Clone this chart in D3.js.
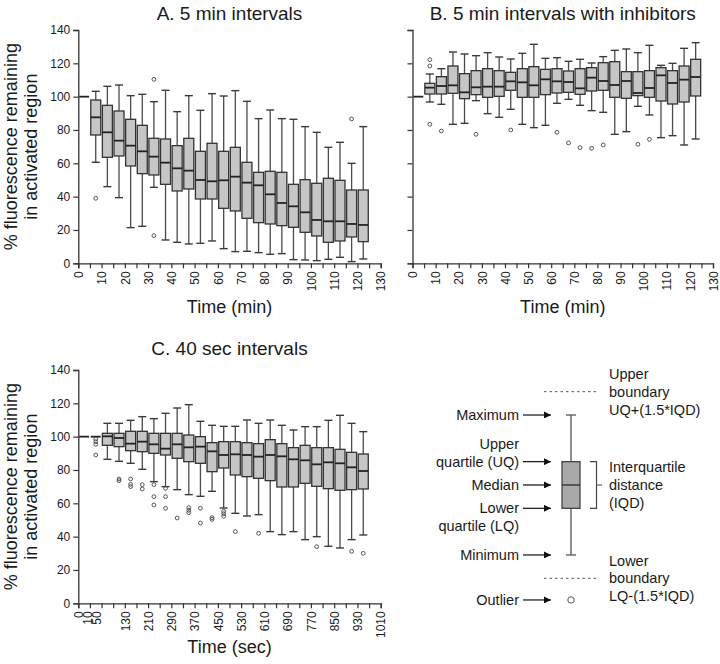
<!DOCTYPE html>
<html>
<head>
<meta charset="utf-8">
<script src="https://cdn.jsdelivr.net/npm/d3@7"></script>
<style>
  body { margin: 0; background: #fff; }
  svg text { font-family: "Liberation Sans", Arial, sans-serif; fill: #1a1a1a; }
</style>
</head>
<body>
<div id="chart"></div>
<script>
// box i sits in slot i (centre at i + 0.5 ticks); slot 0 is the 100% start value
var aTimes = [0, 5, 10, 15, 20, 25, 30, 35, 40, 45, 50, 55, 60, 65, 70, 75, 80, 85, 90, 95, 100, 105, 110, 115, 120];
var aMax = [100, 103.2, 106.2, 107, 100.6, 101.4, 97, 103.8, 91, 100.6, 91.8, 101.8, 100.4, 103.6, 97.2, 86.8, 92, 86.8, 86.4, 82, 78.6, 69.6, 72.6, 60, 82];
var aUQ  = [100, 98, 94.8, 91.4, 86.4, 82.8, 75, 74.6, 70.6, 75, 67.2, 72, 67.2, 69.6, 60.6, 54.6, 55.2, 54.6, 47.4, 50.2, 48, 51, 49.8, 44, 44];
var aMed = [100, 87.6, 78.6, 73.6, 70.6, 67.2, 64, 60.4, 57, 55.6, 50, 49.2, 49.8, 52, 48.4, 46.8, 41.4, 36.2, 34.2, 30.6, 26, 25.2, 25.2, 23.6, 23];
var aLQ  = [100, 77, 63.6, 64.4, 58.4, 53.8, 53, 47.4, 43.4, 44.6, 38.6, 38.6, 33, 31.4, 27, 24.4, 23.6, 22.6, 21.6, 18.6, 16.4, 12.6, 13.4, 15.8, 13];
var aMin = [100, 60.6, 46, 39.4, 21.4, 22.2, 45.6, 14, 12.6, 11.6, 12, 13.4, 8.8, 7, 7.2, 6.4, 5.4, 5.8, 2.2, 2, 1.6, 2.4, 3.6, 1, 2.6];
var aOut = [[1, 39], [6, 110.4], [6, 16.6], [23, 86.6]];

var bTimes = aTimes;
var bMax = [100, 113.6, 116.8, 126.8, 125.6, 124.6, 126.4, 123.8, 122.6, 126, 131.4, 123, 123.4, 121.2, 122.4, 120.2, 124, 127.8, 128.6, 126.4, 130.8, 118.8, 120, 129, 132.4];
var bUQ  = [100, 108, 112, 118.4, 113.8, 115.6, 116.8, 115.6, 114.6, 116.8, 118, 116.4, 116.8, 115.4, 116.8, 117.4, 120.4, 121, 115, 115, 115.6, 117.4, 115.6, 118.4, 122.4];
var bMed = [100, 105.4, 106.4, 106.8, 102.6, 105.6, 106, 106, 109.2, 108.6, 106.8, 110.4, 109.2, 108.8, 105, 111.4, 109.4, 107, 109.4, 102.2, 105.2, 112.8, 108.2, 110.2, 111.8];
var bLQ  = [100, 101.6, 101.6, 102, 98.8, 101.2, 99.6, 100.2, 103.8, 99.6, 99.6, 101.2, 102.2, 102.6, 101.4, 103.4, 103.8, 99.6, 99, 100.6, 99.6, 97.4, 95.6, 96.8, 100.4];
var bMin = [100, 96.8, 95.4, 83.4, 84, 97.6, 89.8, 87.6, 92.4, 83.4, 81.4, 82.8, 96, 98.4, 94.8, 91.6, 90.6, 77.4, 79, 94.2, 89, 75.4, 76.6, 71, 74.6];
var bOut = [[1, 122.2], [1, 118.4], [1, 83.4], [2, 79.4], [5, 77.4], [8, 80], [12, 78.6], [13, 72.2], [14, 69.4], [15, 69], [16, 71], [19, 71.4], [20, 74.4]];

var cTimes = [0, 10, 50, 90, 130, 170, 210, 250, 290, 330, 370, 410, 450, 490, 530, 570, 610, 650, 690, 730, 770, 810, 850, 890, 930];
var cMax = [100, 100, 108, 108, 109.8, 112, 110.8, 114, 117.2, 119.2, 109.2, 106.8, 106.2, 106.2, 110, 108, 110, 106.8, 104, 106, 106, 109.8, 112.8, 108, 103];
var cUQ  = [100, 100, 102, 102, 103.2, 103.2, 102, 102, 102, 101, 100, 96.4, 97, 97, 96.4, 95.8, 98.2, 95.8, 93.4, 94.8, 93.4, 93.4, 92.4, 90.6, 89.6];
var cMed = [100, 100, 100.2, 99.2, 95.8, 97, 95.4, 92.8, 95.4, 93.6, 94, 91.2, 89, 89.4, 89, 88, 89, 88.2, 86.4, 85.8, 83.4, 84.6, 84, 81.6, 79.4];
var cLQ  = [100, 100, 94.8, 94, 91.6, 91, 90, 89, 87, 85, 84, 79, 81.2, 77, 76, 75, 73.6, 69.8, 69.8, 72, 70.2, 68.8, 67.8, 68.2, 68.6];
var cMin = [100, 100, 86.4, 85.2, 84, 80.4, 73, 70, 68.2, 65.2, 64.2, 67.2, 57.2, 54, 52.4, 53.2, 43, 41.2, 43, 38.2, 40, 34.2, 33.2, 38.2, 41];
var cOut = [[1, 98.6], [1, 97], [1, 95.4], [1, 89], [3, 74.6], [3, 73.6], [4, 74.6], [4, 71.4], [4, 70], [5, 71.2], [5, 68.6],
            [6, 71.2], [6, 64], [6, 59], [7, 69], [7, 64], [7, 57], [8, 51.2], [9, 57.4], [9, 55.8], [9, 54.4], [10, 57], [10, 48.2],
            [11, 51.4], [11, 50.4], [12, 55.2], [12, 53.8], [12, 52.2], [13, 43], [15, 42], [20, 34], [23, 31.2], [24, 30]];

// tick marks along the time axes
var minTicks = [0, 5, 10, 15, 20, 25, 30, 35, 40, 45, 50, 55, 60, 65, 70, 75, 80, 85, 90, 95, 100, 105, 110, 115, 120, 125, 130];
var minLabelled = [0, 10, 20, 30, 40, 50, 60, 70, 80, 90, 100, 110, 120, 130];
var secTicks = [0, 10, 50, 90, 130, 170, 210, 250, 290, 330, 370, 410, 450, 490, 530, 570, 610, 650, 690, 730, 770, 810, 850, 890, 930, 970, 1010];
var secLabelled = [0, 10, 50, 130, 210, 290, 370, 450, 530, 610, 690, 770, 850, 930, 1010];
var yTicks = [0, 20, 40, 60, 80, 100, 120, 140];

// explanatory box (drawn on panel C's value scale)
var legMax = 113, legUQ = 85, legMed = 71, legLQ = 57, legMin = 29, legOut = 2;

var width = 720, height = 664;
var svg = d3.select("#chart").append("svg")
  .attr("width", width)
  .attr("height", height);

var boxW = 10, capW = 8;
var dark = "#333";

function makeStats(mx, uq, md, lq, mn) {
  return mx.map(function (d, i) {
    return { i: i, max: d, uq: uq[i], med: md[i], lq: lq[i], min: mn[i] };
  });
}

function panel(opt) {
  var g = svg.append("g");
  var nSlots = opt.ticks.length - 1;
  var x = d3.scaleLinear().domain([0, nSlots]).range(opt.xRange);
  var y = d3.scaleLinear().domain([0, 140]).range(opt.yRange);
  var cx = function (i) { return x(i + 0.5); };

  // y axis
  var yAxis = d3.axisLeft(y).tickValues(yTicks).tickSize(5).tickPadding(3)
    .tickFormat(opt.yLabels ? d3.format("d") : "");
  var ya = g.append("g").attr("transform", "translate(" + opt.xRange[0] + ",0)").call(yAxis);
  ya.select(".domain").attr("stroke", dark).attr("stroke-width", 1.3);
  ya.selectAll(".tick line").attr("stroke", dark).attr("stroke-width", 1.2);
  ya.selectAll("text").style("font-size", "12px").attr("fill", "#1a1a1a");

  // x axis
  var xAxis = d3.axisBottom(x).tickValues(d3.range(0, nSlots + 1)).tickSize(5)
    .tickFormat(function (d) {
      var t = opt.ticks[d];
      return opt.labelled.indexOf(t) >= 0 ? t : "";
    });
  var xa = g.append("g").attr("transform", "translate(0," + opt.yRange[0] + ")").call(xAxis);
  xa.select(".domain").attr("stroke", dark).attr("stroke-width", 1.3);
  xa.selectAll(".tick line").attr("stroke", dark).attr("stroke-width", 1.2);
  xa.selectAll("text")
    .style("font-size", "12px").attr("fill", "#1a1a1a")
    .attr("y", 0).attr("x", -8).attr("dy", "0.35em")
    .attr("transform", function (d) {
      var nudge = opt.nudge && opt.nudge[d] ? opt.nudge[d] : 0;
      return "translate(" + nudge + ",0) rotate(-90)";
    })
    .style("text-anchor", "end");

  var stats = makeStats(opt.max, opt.uq, opt.med, opt.lq, opt.min);
  var boxes = g.selectAll(".box").data(stats).enter().append("g").attr("class", "box");

  // whiskers
  boxes.append("line")
    .attr("x1", function (d) { return cx(d.i); }).attr("x2", function (d) { return cx(d.i); })
    .attr("y1", function (d) { return y(d.uq); }).attr("y2", function (d) { return y(d.max); })
    .attr("stroke", "#4a4a4a").attr("stroke-width", 1.3);
  boxes.append("line")
    .attr("x1", function (d) { return cx(d.i); }).attr("x2", function (d) { return cx(d.i); })
    .attr("y1", function (d) { return y(d.lq); }).attr("y2", function (d) { return y(d.min); })
    .attr("stroke", "#4a4a4a").attr("stroke-width", 1.3);
  boxes.filter(function (d) { return d.max !== d.lq; }).each(function (d) {
    var s = d3.select(this);
    [d.max, d.min].forEach(function (v) {
      s.append("line")
        .attr("x1", cx(d.i) - capW / 2).attr("x2", cx(d.i) + capW / 2)
        .attr("y1", y(v)).attr("y2", y(v))
        .attr("stroke", "#3a3a3a").attr("stroke-width", 1.4);
    });
  });

  // boxes
  boxes.append("rect")
    .attr("x", function (d) { return cx(d.i) - boxW / 2; })
    .attr("width", boxW)
    .attr("y", function (d) { return y(d.uq); })
    .attr("height", function (d) { return y(d.lq) - y(d.uq); })
    .attr("fill", "#c6c6c6").attr("stroke", dark).attr("stroke-width", 1.3);
  boxes.append("line")
    .attr("x1", function (d) { return cx(d.i) - boxW / 2; })
    .attr("x2", function (d) { return cx(d.i) + boxW / 2; })
    .attr("y1", function (d) { return y(d.med); }).attr("y2", function (d) { return y(d.med); })
    .attr("stroke", "#222").attr("stroke-width", 1.8);

  // outliers
  g.selectAll(".out").data(opt.out).enter().append("circle")
    .attr("cx", function (d) { return cx(d[0]); })
    .attr("cy", function (d) { return y(d[1]); })
    .attr("r", 1.9)
    .attr("fill", "none").attr("stroke", "#444").attr("stroke-width", 0.9);

  // titles
  var mid = (opt.xRange[0] + opt.xRange[1]) / 2;
  g.append("text").attr("x", mid).attr("y", opt.yRange[1] + opt.titleDy)
    .attr("text-anchor", "middle").style("font-size", "19px").text(opt.title);
  g.append("text").attr("x", mid).attr("y", opt.yRange[0] + 50)
    .attr("text-anchor", "middle").style("font-size", "18px").text(opt.xTitle);
  if (opt.yLabels) {
    var ym = (opt.yRange[0] + opt.yRange[1]) / 2;
    var yt = g.append("text").attr("transform", "translate(0," + ym + ") rotate(-90)")
      .attr("text-anchor", "middle").style("font-size", "18px");
    yt.append("tspan").attr("x", 0).attr("y", 17).text("% fluorescence remaining");
    yt.append("tspan").attr("x", 0).attr("y", 37).text("in activated region");
  }
  return { x: x, y: y };
}

panel({ xRange: [78.3, 380.7], yRange: [263.3, 30], ticks: minTicks, labelled: minLabelled,
  max: aMax, uq: aUQ, med: aMed, lq: aLQ, min: aMin, out: aOut,
  title: "A. 5 min intervals", titleDy: -10, xTitle: "Time (min)", yLabels: true });

panel({ xRange: [412.5, 713], yRange: [263.3, 30], ticks: minTicks, labelled: minLabelled,
  max: bMax, uq: bUQ, med: bMed, lq: bLQ, min: bMin, out: bOut,
  title: "B. 5 min intervals with inhibitors", titleDy: -10, xTitle: "Time (min)", yLabels: false });

var pc = panel({ xRange: [78.3, 380.7], yRange: [603.3, 370], ticks: secTicks, labelled: secLabelled,
  nudge: { 1: -3, 2: -5 },
  max: cMax, uq: cUQ, med: cMed, lq: cLQ, min: cMin, out: cOut,
  title: "C. 40 sec intervals", titleDy: -15, xTitle: "Time (sec)", yLabels: true });

// ---- key ----
var ly = pc.y;
var lx = 571, lBoxW = 18, lCapW = 10;
var key = svg.append("g");
var iqd = legUQ - legLQ;
var upperB = legUQ + 1.5 * iqd, lowerB = legLQ - 1.5 * iqd;

key.append("line").attr("x1", lx).attr("x2", lx).attr("y1", ly(legMax)).attr("y2", ly(legMin))
  .attr("stroke", "#555").attr("stroke-width", 1.3);
[legMax, legMin].forEach(function (v) {
  key.append("line").attr("x1", lx - lCapW / 2).attr("x2", lx + lCapW / 2)
    .attr("y1", ly(v)).attr("y2", ly(v)).attr("stroke", "#555").attr("stroke-width", 1.3);
});
key.append("rect").attr("x", lx - lBoxW / 2).attr("width", lBoxW)
  .attr("y", ly(legUQ)).attr("height", ly(legLQ) - ly(legUQ))
  .attr("fill", "#a9a9a9").attr("stroke", "#444").attr("stroke-width", 1.3);
key.append("line").attr("x1", lx - lBoxW / 2).attr("x2", lx + lBoxW / 2)
  .attr("y1", ly(legMed)).attr("y2", ly(legMed)).attr("stroke", "#333").attr("stroke-width", 1.4);
key.append("circle").attr("cx", lx).attr("cy", ly(legOut)).attr("r", 3.2)
  .attr("fill", "none").attr("stroke", "#555").attr("stroke-width", 1);

[upperB, lowerB].forEach(function (v) {
  key.append("line").attr("x1", 544).attr("x2", 598).attr("y1", ly(v)).attr("y2", ly(v))
    .attr("stroke", "#555").attr("stroke-width", 1).attr("stroke-dasharray", "2.5,3");
});

// bracket for IQD
key.append("path")
  .attr("d", "M590," + ly(legUQ) + "H596.5V" + ly(legLQ) + "H590M596.5," + ly(legMed) + "H602")
  .attr("fill", "none").attr("stroke", "#444").attr("stroke-width", 1.2);

svg.append("defs").append("marker").attr("id", "arr")
  .attr("viewBox", "0 0 10 10").attr("refX", 10).attr("refY", 5)
  .attr("markerWidth", 10).attr("markerHeight", 7).attr("markerUnits", "userSpaceOnUse")
  .attr("orient", "auto")
  .append("path").attr("d", "M0,0L10,5L0,10z").attr("fill", "#111");

var leftLabels = [
  { v: legMax, lines: ["Maximum"], off: 0 },
  { v: legUQ, lines: ["Upper", "quartile (UQ)"], off: -1 },
  { v: legMed, lines: ["Median"], off: 0 },
  { v: legLQ, lines: ["Lower", "quartile (LQ)"], off: 0 },
  { v: legMin, lines: ["Minimum"], off: 0 },
  { v: legOut, lines: ["Outlier"], off: 0 }
];
leftLabels.forEach(function (d) {
  var yy = ly(d.v);
  key.append("line").attr("x1", 523).attr("x2", 551).attr("y1", yy).attr("y2", yy)
    .attr("stroke", "#111").attr("stroke-width", 1.2).attr("marker-end", "url(#arr)");
  d.lines.forEach(function (t, k) {
    key.append("text").attr("x", 519)
      .attr("y", yy + (d.off + k) * 17.5).attr("dy", "0.35em")
      .attr("text-anchor", "end").style("font-size", "14.5px")
      .text(t);
  });
});

var rightLabels = [
  { v: upperB, lines: ["Upper", "boundary", "UQ+(1.5*IQD)"] },
  { v: legMed, lines: ["Interquartile", "distance", "(IQD)"] },
  { v: lowerB, lines: ["Lower", "boundary", "LQ-(1.5*IQD)"] }
];
rightLabels.forEach(function (d) {
  d.lines.forEach(function (t, k) {
    key.append("text").attr("x", 609)
      .attr("y", ly(d.v) + (k - 1) * 17.8).attr("dy", "0.35em")
      .style("font-size", "14.5px")
      .text(t);
  });
});
</script>
</body>
</html>
